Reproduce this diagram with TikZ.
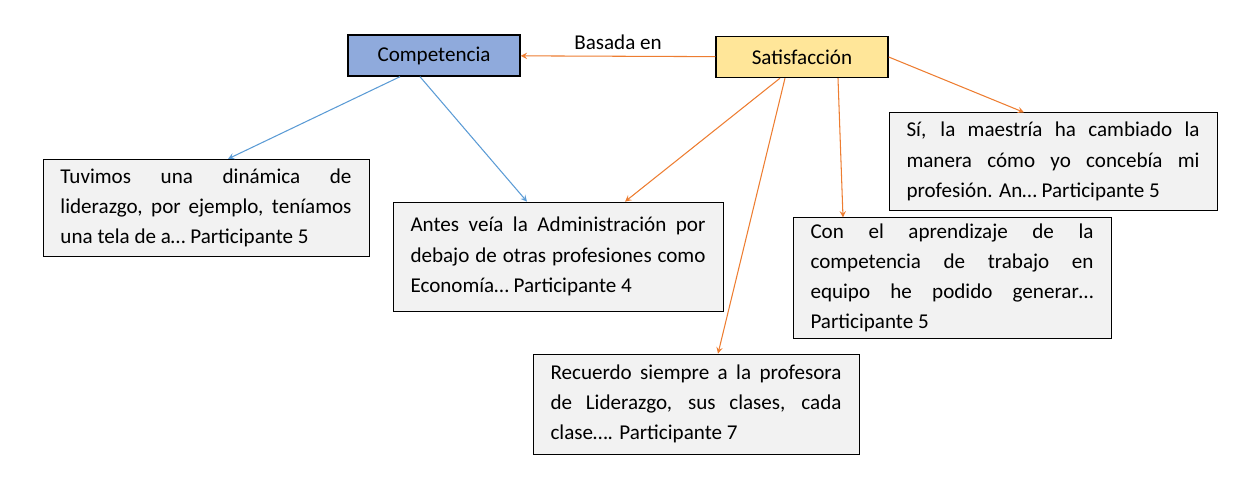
\documentclass[tikz,border=0pt]{standalone}
\usepackage{fontspec}
\setmainfont{Carlito}
\usepackage{tikz}
\usetikzlibrary{arrows}
\usepackage{xcolor}
\definecolor{compblue}{RGB}{143,170,220}
\definecolor{satyellow}{RGB}{255,230,153}
\definecolor{boxgray}{RGB}{242,242,242}
\definecolor{lineblue}{RGB}{91,155,213}
\definecolor{lineorange}{RGB}{237,125,49}
\newcommand{\quotefont}{\fontsize{12}{17.2}\selectfont\hyphenpenalty10000\exhyphenpenalty10000\relax}
\tikzset{
  concept/.style={draw,thick,minimum width=3.44cm,minimum height=0.82cm,font=\fontsize{12}{15}\selectfont},
  quote/.style={draw,fill=boxgray,text width=5.7cm,align=justify,inner xsep=0.35cm,minimum height=1.95cm,font=\quotefont},
  blink/.style={->,>=stealth,lineblue,semithick},
  olink/.style={->,>=stealth,lineorange,semithick}
}
\begin{document}
\begin{tikzpicture}
  \useasboundingbox (0,0) rectangle (25.08,9.58);
  \node[concept,fill=compblue] (comp) at (8.68,8.47) {Competencia};
  \node[concept,fill=satyellow] (sat) at (16.04,8.44) {Satisfacción};
  \node[quote,text width=5.82cm] (tuv) at (4.12,5.42) {Tuvimos una dinámica de liderazgo, por ejemplo, teníamos una tela de a\dots{} Participante 5};
  \node[quote,text width=5.9cm,minimum height=2.18cm] (antes) at (11.16,4.45) {Antes veía la Administración por debajo de otras profesiones como Economía\dots{} Participante 4};
  \node[quote,text width=5.86cm] (si) at (21.06,6.35) {Sí, la maestría ha cambiado la manera cómo yo concebía mi profesión. An\dots{} Participante 5};
  \node[quote,text width=5.66cm] (con) at (19.04,4.02) {Con el aprendizaje de la competencia de trabajo en equipo he podido generar\dots{} Participante 5};
  \node[quote,text width=5.82cm,minimum height=2cm] (rec) at (13.92,1.5) {Recuerdo siempre a la profesora de Liderazgo, sus clases, cada clase\dots. Participante 7};
  % enlaces
  \draw[olink] (sat) -- node[above,black,font=\fontsize{12}{15}\selectfont] {Basada en} (comp);
  \draw[blink] ([xshift=-0.68cm]comp.south) -- ([xshift=0.44cm]tuv.north);
  \draw[blink] ([xshift=-0.28cm]comp.south) -- ([xshift=-0.62cm]antes.north);
  \draw[olink] ([xshift=-0.44cm]sat.south) -- ([xshift=1.34cm]antes.north);
  \draw[olink] ([xshift=-0.34cm]sat.south) -- ([xshift=0.44cm]rec.north);
  \draw[olink] ([xshift=0.72cm]sat.south) -- ([xshift=-2.18cm]con.north);
  \draw[olink] (sat.east) -- ([xshift=-0.58cm]si.north);
\end{tikzpicture}
\end{document}
